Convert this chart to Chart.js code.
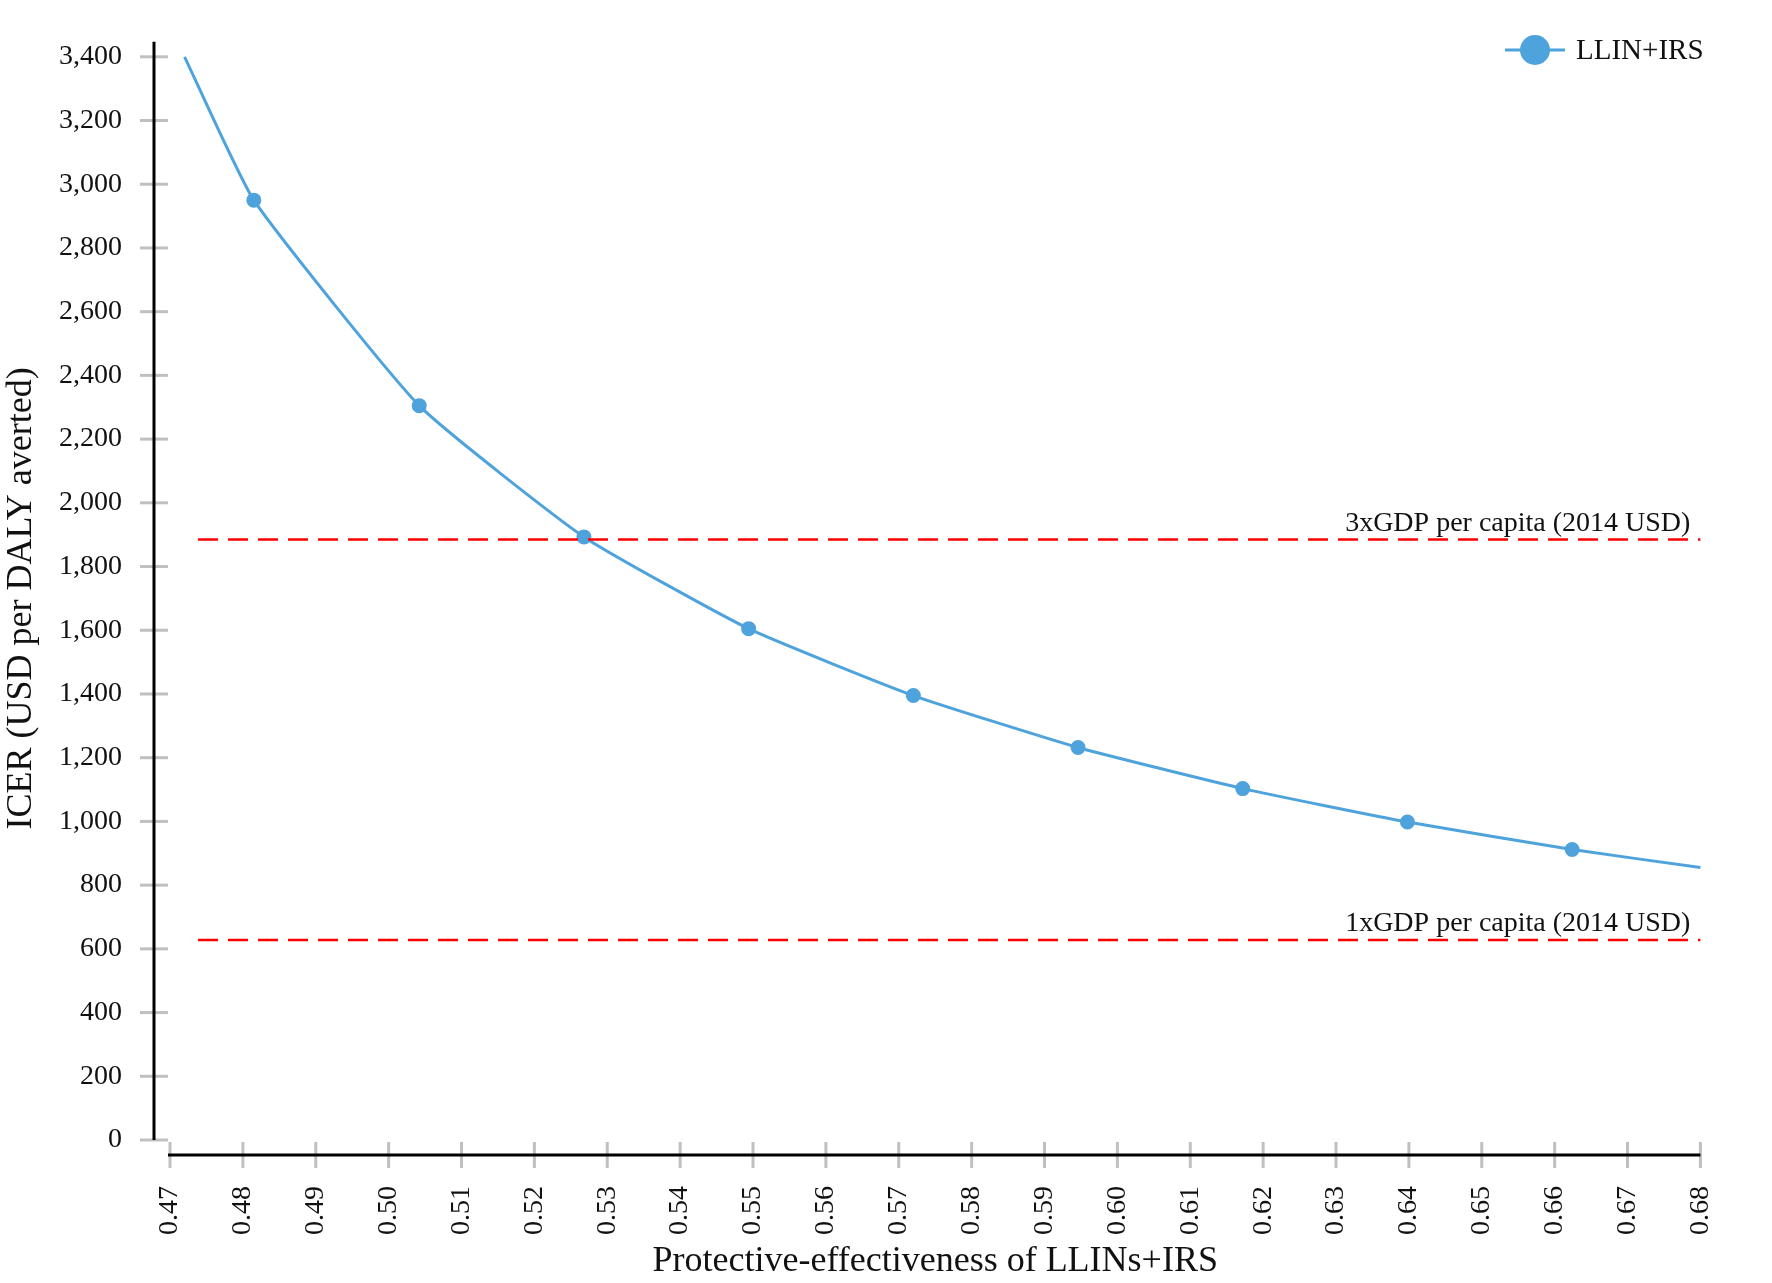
<!DOCTYPE html>
<html><head><meta charset="utf-8">
<script src="https://cdn.jsdelivr.net/npm/chart.js@4/dist/chart.umd.min.js"></script>
<style>html,body{margin:0;padding:0;background:#fff}#w{width:1772px;height:1283px}</style>
</head><body><div id="w"><canvas id="c"></canvas></div>
<script>
const effectiveness = [0.4720, 0.4815, 0.5042, 0.5268, 0.5494, 0.5720, 0.5946, 0.6172, 0.6398, 0.6624, 0.6800];
const icer =          [3400,   2950,   2305,   1893,   1605,   1395,   1232,   1103,   998,    912,    855];
const markerShown =   [0, 1, 1, 1, 1, 1, 1, 1, 1, 1, 0];
const thresholds = [
  {value: 1885, label: '3xGDP per capita (2014 USD)'},
  {value: 628,  label: '1xGDP per capita (2014 USD)'}
];
const seriesName = 'LLIN+IRS';
const xTitle = 'Protective-effectiveness of LLINs+IRS';
const yTitle = 'ICER (USD per DALY averted)';
const FONT = "'Liberation Serif', 'Times New Roman', serif";
const BLUE = '#4fa3dc';

const deco = {
  id: 'deco',
  afterDatasetsDraw(chart) {
    const {ctx, chartArea: a, scales: {x, y}} = chart;
    ctx.save();
    thresholds.forEach(t => {
      const py = y.getPixelForValue(t.value);
      ctx.strokeStyle = '#ff0000'; ctx.lineWidth = 2.5; ctx.setLineDash([20, 10]);
      ctx.beginPath(); ctx.moveTo(a.left + 28, py); ctx.lineTo(a.right, py); ctx.stroke();
      ctx.setLineDash([]);
      ctx.fillStyle = '#111'; ctx.font = '28px ' + FONT; ctx.textAlign = 'right'; ctx.textBaseline = 'bottom';
      ctx.fillText(t.label, a.right - 10, py - 2);
    });
    const yl = a.left - 16, xl = a.bottom + 15;
    ctx.strokeStyle = '#c0c0c0'; ctx.lineWidth = 3;
    y.ticks.forEach(t => { const py = y.getPixelForValue(t.value); ctx.beginPath(); ctx.moveTo(yl - 14, py); ctx.lineTo(yl + 14, py); ctx.stroke(); });
    x.ticks.forEach(t => { const px = x.getPixelForValue(t.value); ctx.beginPath(); ctx.moveTo(px, xl - 13); ctx.lineTo(px, xl + 13); ctx.stroke(); });
    ctx.strokeStyle = '#000'; ctx.lineWidth = 3;
    ctx.beginPath(); ctx.moveTo(yl, a.top - 15); ctx.lineTo(yl, a.bottom); ctx.stroke();
    ctx.beginPath(); ctx.moveTo(a.left - 2, xl); ctx.lineTo(a.right, xl); ctx.stroke();
    const lx = 1505, ly = 50;
    ctx.strokeStyle = BLUE; ctx.lineWidth = 3;
    ctx.beginPath(); ctx.moveTo(lx, ly); ctx.lineTo(lx + 60, ly); ctx.stroke();
    ctx.fillStyle = BLUE; ctx.beginPath(); ctx.arc(lx + 30, ly, 15, 0, Math.PI * 2); ctx.fill();
    ctx.fillStyle = '#111'; ctx.font = '29px ' + FONT; ctx.textAlign = 'left'; ctx.textBaseline = 'middle';
    ctx.fillText(seriesName, lx + 71, ly + 1);
    ctx.restore();
  }
};

new Chart(document.getElementById('c'), {
  type: 'line',
  data: { datasets: [{
    label: seriesName,
    data: effectiveness.map((v, i) => ({x: v, y: icer[i]})),
    borderColor: BLUE, backgroundColor: BLUE, borderWidth: 3,
    pointRadius: markerShown.map(m => m ? 6 : 0), pointHoverRadius: 0,
    tension: 0.15, clip: false
  }]},
  options: {
    responsive: true, maintainAspectRatio: false, animation: false,
    layout: {padding: {top: -30, right: -42, left: 0, bottom: 0}},
    plugins: {legend: {display: false}, tooltip: {enabled: false}},
    scales: {
      x: { type: 'linear', min: 0.47, max: 0.68,
        grid: {display: false}, border: {display: false},
        afterFit: s => { s.height = 143; },
        afterBuildTicks: s => { s.ticks = []; for (let i = 47; i <= 68; i++) s.ticks.push({value: i / 100}); },
        ticks: { color: '#111', font: {family: FONT, size: 28}, minRotation: 90, maxRotation: 90, padding: 38,
          autoSkip: false, callback: v => v.toFixed(2) },
        title: {display: true, text: xTitle, color: '#111', font: {family: FONT, size: 36}, padding: {top: 0, bottom: 0}}
      },
      y: { min: 0, max: 3400,
        grid: {display: false}, border: {display: false},
        afterFit: s => { s.width = 170; },
        ticks: { stepSize: 200, color: '#111', font: {family: FONT, size: 28}, padding: 40,
          callback: v => v.toLocaleString('en-US') },
        title: {display: true, text: yTitle, color: '#111', font: {family: FONT, size: 36}, padding: {top: 0, bottom: 0}}
      }
    }
  },
  plugins: [deco]
});
</script></body></html>
